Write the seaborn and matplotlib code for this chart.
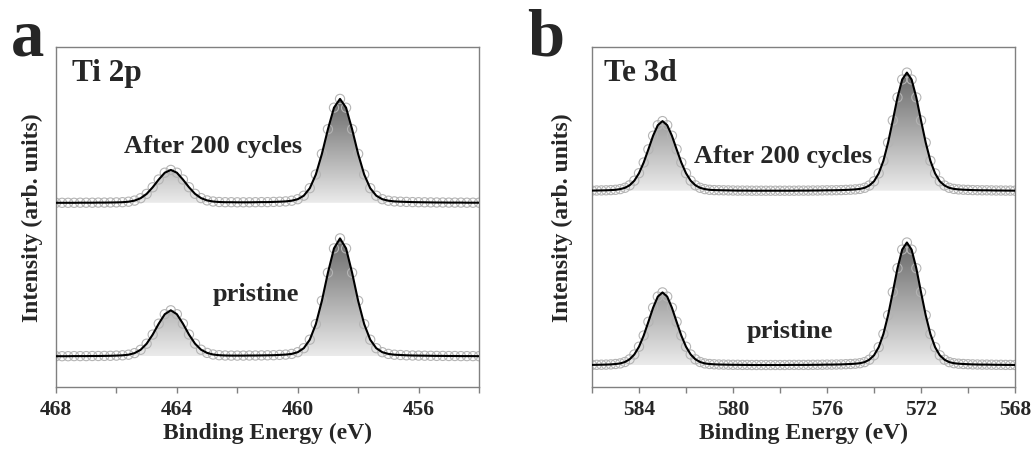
import numpy as np
import pandas as pd
import matplotlib
matplotlib.use('Agg')
import matplotlib.pyplot as plt
from matplotlib.colors import LinearSegmentedColormap
from matplotlib.ticker import MultipleLocator
import seaborn as sns

# binding energy grids (eV), 0.2 eV steps
ti_energy = np.round(np.arange(468.0, 453.99, -0.2), 1)
te_energy = np.round(np.arange(586.0, 567.99, -0.2), 1)

# Ti 2p intensities (arb. units)
ti_cycled = [
    184.2, 184.2, 184.2, 184.2, 184.3, 184.3, 184.3, 184.4, 184.4, 184.5,
    184.6, 184.8, 185.3, 186.4, 188.8, 193.1, 199.7, 207.5, 214.3, 217.1,
    214.3, 207.5, 199.8, 193.2, 188.9, 186.6, 185.5, 185.0, 184.8, 184.8,
    184.7, 184.7, 184.7, 184.8, 184.9, 184.9, 185.1, 185.3, 185.6, 186.3,
    187.8, 191.3, 198.8, 212.5, 233.1, 257.8, 279.3, 288.1, 279.3, 257.8,
    233.1, 212.5, 198.8, 191.3, 187.8, 186.3, 185.6, 185.3, 185.1, 184.9,
    184.8, 184.7, 184.6, 184.5, 184.5, 184.4, 184.4, 184.4, 184.3, 184.3,
    184.3]
ti_pristine = [
    30.8, 30.8, 30.8, 30.9, 30.9, 30.9, 31.0, 31.0, 31.1, 31.2,
    31.4, 31.7, 32.3, 33.9, 37.2, 43.3, 52.4, 63.3, 72.8, 76.7,
    72.8, 63.4, 52.5, 43.4, 37.3, 34.1, 32.5, 31.8, 31.5, 31.4,
    31.4, 31.4, 31.5, 31.5, 31.6, 31.7, 31.8, 32.1, 32.4, 33.1,
    34.8, 38.8, 47.3, 62.9, 86.2, 114.3, 138.6, 148.6, 138.6, 114.3,
    86.2, 62.9, 47.3, 38.8, 34.8, 33.1, 32.3, 32.0, 31.7, 31.5,
    31.4, 31.3, 31.2, 31.1, 31.1, 31.0, 31.0, 30.9, 30.9, 30.9,
    30.8]

# Te 3d intensities (arb. units)
te_cycled = [
    196.4, 196.5, 196.6, 196.7, 196.9, 197.2, 197.9, 199.2, 201.7, 206.3,
    213.8, 224.5, 237.7, 251.3, 261.8, 265.9, 261.8, 251.3, 237.7, 224.5,
    213.8, 206.3, 201.7, 199.2, 197.9, 197.2, 196.9, 196.8, 196.7, 196.6,
    196.5, 196.4, 196.4, 196.4, 196.3, 196.3, 196.3, 196.3, 196.3, 196.3,
    196.3, 196.3, 196.3, 196.3, 196.4, 196.4, 196.4, 196.5, 196.5, 196.6,
    196.7, 196.7, 196.8, 196.9, 197.1, 197.3, 197.6, 198.1, 199.2, 201.5,
    205.7, 213.6, 226.2, 244.4, 266.6, 289.6, 307.5, 314.4, 307.5, 289.6,
    266.6, 244.4, 226.2, 213.6, 205.7, 201.5, 199.2, 198.1, 197.6, 197.3,
    197.1, 196.9, 196.8, 196.7, 196.7, 196.6, 196.5, 196.5, 196.4, 196.4,
    196.3]
te_pristine = [
    22.1, 22.2, 22.3, 22.4, 22.6, 23.0, 23.6, 25.0, 27.7, 32.5,
    40.3, 51.5, 65.2, 79.3, 90.4, 94.6, 90.4, 79.3, 65.2, 51.5,
    40.3, 32.5, 27.7, 25.0, 23.6, 23.0, 22.7, 22.5, 22.4, 22.3,
    22.2, 22.2, 22.1, 22.1, 22.0, 22.0, 22.0, 22.0, 22.0, 22.0,
    22.0, 22.0, 22.1, 22.1, 22.1, 22.1, 22.1, 22.2, 22.2, 22.3,
    22.4, 22.4, 22.5, 22.6, 22.8, 23.0, 23.3, 23.8, 24.9, 27.3,
    31.7, 39.8, 53.0, 71.8, 94.9, 118.8, 137.4, 144.5, 137.4, 118.8,
    94.9, 71.8, 53.0, 39.8, 31.7, 27.3, 24.9, 23.8, 23.3, 23.0,
    22.8, 22.6, 22.5, 22.4, 22.4, 22.3, 22.2, 22.2, 22.1, 22.1,
    22.0]

ti_ticks = [468, 464, 460, 456]
te_ticks = [584, 580, 576, 572, 568]

sns.set_style('white')
plt.rcParams['font.family'] = ['Liberation Serif', 'DejaVu Serif']
plt.rcParams['font.weight'] = 'bold'
plt.rcParams['axes.labelweight'] = 'bold'

gray_cmap = LinearSegmentedColormap.from_list('xps', ['#ebebeb', '#686868'])


def shaded_spectrum(ax, energy, counts):
    df = pd.DataFrame({'E': energy, 'I': counts})
    base, top = df['I'].min(), df['I'].max()
    # gradient fill under the fitted curve
    poly = ax.fill_between(df['E'], base, df['I'], color='none', lw=0)
    grad = np.linspace(0, 1, 256).reshape(-1, 1)
    im = ax.imshow(grad, cmap=gray_cmap, origin='lower', aspect='auto',
                   extent=[df['E'].min(), df['E'].max(), base, top], zorder=1)
    im.set_clip_path(poly.get_paths()[0], transform=ax.transData)
    sns.scatterplot(data=df, x='E', y='I', ax=ax, s=44, color='none',
                    edgecolor='#b4b4b4', linewidth=0.8, zorder=2, legend=False)
    sns.lineplot(data=df, x='E', y='I', ax=ax, color='black', lw=1.5, zorder=3)


def style_axes(ax, xlim, ticks, label_x):
    ax.set_xlim(*xlim)
    ax.set_ylim(0, 340)
    ax.set_xticks(ticks)
    ax.set_xticklabels([str(t) for t in ticks])
    ax.xaxis.set_minor_locator(MultipleLocator(2))
    ax.set_yticks([])
    ax.tick_params(axis='x', which='both', bottom=True, direction='out',
                   length=4, width=1, color='#808080', labelsize=15.5, pad=5)
    for sp in ax.spines.values():
        sp.set_color('#808080')
        sp.set_linewidth(1)
    ax.set_xlabel('Binding Energy (eV)', fontsize=17, labelpad=2)
    ax.set_ylabel('Intensity (arb. units)', fontsize=17)
    ax.yaxis.set_label_coords(label_x, 0.5)


fig = plt.figure(figsize=(10.34, 4.52), dpi=100)
ax_a = fig.add_axes([56 / 1034, 64 / 452, 423 / 1034, 340 / 452])
ax_b = fig.add_axes([592 / 1034, 64 / 452, 423 / 1034, 340 / 452])

shaded_spectrum(ax_a, ti_energy, ti_cycled)
shaded_spectrum(ax_a, ti_energy, ti_pristine)
style_axes(ax_a, (468, 454), ti_ticks, -0.031)
ax_a.text(0.038, 0.903, 'Ti 2p', transform=ax_a.transAxes, fontsize=22.5,
          fontweight='bold', va='baseline', ha='left')
ax_a.text(462.8, 235.5, 'After 200 cycles', fontsize=19, fontweight='bold',
          ha='center', va='baseline')
ax_a.text(461.4, 87, 'pristine', fontsize=19, fontweight='bold',
          ha='center', va='baseline')

shaded_spectrum(ax_b, te_energy, te_cycled)
shaded_spectrum(ax_b, te_energy, te_pristine)
style_axes(ax_b, (586, 568), te_ticks, -0.045)
ax_b.text(0.029, 0.903, 'Te 3d', transform=ax_b.transAxes, fontsize=22.5,
          fontweight='bold', va='baseline', ha='left')
ax_b.text(577.86, 224.7, 'After 200 cycles', fontsize=19, fontweight='bold',
          ha='center', va='baseline')
ax_b.text(577.56, 49.7, 'pristine', fontsize=19, fontweight='bold',
          ha='center', va='baseline')

fig.text(11 / 1034, 1 - 55 / 452, 'a', fontsize=48, fontweight='bold',
         ha='left', va='baseline')
fig.text(527 / 1034, 1 - 55 / 452, 'b', fontsize=48, fontweight='bold',
         ha='left', va='baseline')

fig.savefig('out.png', dpi=100)
